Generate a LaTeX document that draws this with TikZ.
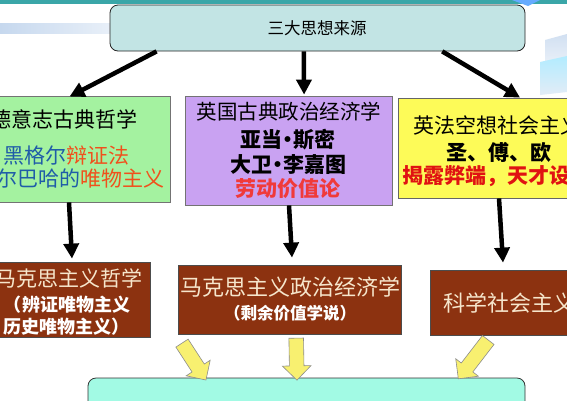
\documentclass[tikz,border=0pt]{standalone}
\usepackage{fontspec}
\setmainfont{Noto Sans CJK SC}
\usetikzlibrary{arrows.meta,shapes.arrows,calc}
\definecolor{topfill}{HTML}{C2E4E4}
\definecolor{greenfill}{HTML}{A4F2A0}
\definecolor{purplefill}{HTML}{C9A2F2}
\definecolor{yellowfill}{HTML}{FDFB58}
\definecolor{brownfill}{HTML}{8C3210}
\definecolor{mintfill}{HTML}{A2FAE4}
\definecolor{cream}{HTML}{F6E6CC}
\definecolor{hblue}{HTML}{1F5CA8}
\definecolor{horange}{HTML}{F0501C}
\definecolor{hred}{HTML}{F03A3A}
\definecolor{dred}{HTML}{E01212}
\definecolor{band}{HTML}{3AA6A8}
\definecolor{paleblue}{HTML}{C6D8EE}
\definecolor{arrowyellow}{HTML}{F8F070}
\newcommand{\mdot}{\kern-5pt·\kern-5pt}
\begin{document}
\begin{tikzpicture}[x=1pt,y=-1pt,
  box/.style={draw=#1,line width=0.8pt,inner sep=0pt},
  txt/.style={inner sep=0pt,font=\fontsize{21}{24}\selectfont},
  blk/.style={line width=4.5pt,-{Triangle[length=15pt,width=15pt]}},
  yarrow/.style={single arrow,draw=black!45,fill=arrowyellow,line width=0.6pt,
    inner xsep=0pt,inner ysep=7pt,single arrow head extend=7pt,
    single arrow tip angle=90}]
\useasboundingbox (0,0) rectangle (567,400);
\clip (0,0) rectangle (567,400);
% background decoration
\fill[white] (0,0) rectangle (567,400);
\shade[left color=paleblue,right color=paleblue!40] (0,23) rectangle (110,33);
\fill[band] (0,0) rectangle (567,3.5);
\fill[blue!55!cyan!60] (512,0) -- (540,0) -- (528,6) -- cycle;
\shade[top color=paleblue!80,bottom color=paleblue!40] (545,40) -- (567,34) -- (567,58) -- (545,62) -- cycle;
\shade[top color=blue!25!cyan!30,bottom color=paleblue!50] (540,62) -- (567,56) -- (567,92) -- (540,95) -- cycle;
% boxes
\node[box=black!85,fill=topfill,rounded corners=8pt,minimum width=415pt,minimum height=46pt] (top) at (317.5,28) {};
\node[txt,font=\fontsize{16.5}{20}\selectfont] (toptxt) at (317,28) {三大思想来源};

\node[box=black!55,fill=greenfill,minimum width=205pt,minimum height=106pt] (green) at (67.5,149) {};
\node[txt] (g1) at (64,119) {德意志古典哲学};
\node[txt] (g2) at (66,156) {\textcolor{hblue}{黑格尔}\textcolor{horange}{辩证法}};
\node[txt] (g3) at (70,179) {\textcolor{hblue}{费尔巴哈的}\textcolor{horange}{唯物主义}};

\node[box=black!55,fill=purplefill,minimum width=207pt,minimum height=109pt] (purple) at (288.5,150.5) {};
\node[txt,font=\fontsize{20.5}{24}\selectfont] (p1) at (289,112) {英国古典政治经济学};
\node[txt,font=\bfseries\fontsize{21}{24}\selectfont] (p2) at (288,140) {亚当\mdot 斯密};
\node[txt,font=\bfseries\fontsize{21}{24}\selectfont] (p3) at (288,165) {大卫\mdot 李嘉图};
\node[txt,font=\bfseries\fontsize{21}{24}\selectfont,text=hred] (p4) at (288,189) {劳动价值论};

\node[box=black!60,fill=yellowfill,minimum width=198pt,minimum height=100pt] (yellow) at (497,148) {};
\node[txt] (y1) at (497,125) {英法空想社会主义};
\node[txt,font=\bfseries\fontsize{21}{24}\selectfont] (y2) at (499,152) {圣、傅、欧};
\node[txt,font=\bfseries\fontsize{21}{24}\selectfont,text=dred] (y3) at (497,176) {揭露弊端，天才设想};

\node[box=black!70,fill=brownfill,minimum width=165pt,minimum height=75pt] (m1) at (67.5,299.5) {};
\node[txt,text=cream] (m1a) at (69,278) {马克思主义哲学};
\node[txt,font=\bfseries\fontsize{18}{22}\selectfont,text=white] (m1b) at (67,305) {（辨证唯物主义};
\node[txt,font=\bfseries\fontsize{18}{22}\selectfont,text=white] (m1c) at (66,327) {历史唯物主义）};

\node[box=black!70,fill=brownfill,minimum width=223pt,minimum height=69pt] (m2) at (289.5,299.5) {};
\node[txt,font=\fontsize{22}{26}\selectfont,text=cream] (m2a) at (290,287) {马克思主义政治经济学};
\node[txt,font=\bfseries\fontsize{16.5}{20}\selectfont,text=white] (m2b) at (290,313) {（剩余价值学说）};

\node[box=black!70,fill=brownfill,minimum width=158pt,minimum height=65pt] (m3) at (509,302.5) {};
\node[txt,font=\fontsize{22}{26}\selectfont,text=cream] (m3a) at (509,303) {科学社会主义};

\node[box=black!80,fill=mintfill,rounded corners=8pt,minimum width=437pt,minimum height=60pt] (bottom) at (306.5,408) {};

% black arrows
\draw[blk] ($(top.south west)!0.113!(top.south east)$) -- ($(green.north)+(2,1)$);
\draw[blk] ($(top.south west)!0.467!(top.south east)$) -- ($(purple.north west)!0.575!(purple.north east)+(0,-1)$);
\draw[blk] ($(top.south west)!0.80!(top.south east)$) -- ($(yellow.north west)!0.616!(yellow.north east)$);
\draw[blk] ($(green.south)+(1.5,0)$) -- ($(m1.north)+(4.5,-3)$);
\draw[blk] ($(purple.south)+(0.5,0)$) -- ($(m2.north)+(2.5,-7)$);
\draw[blk] ($(yellow.south)+(2,0)$) -- ($(m3.north)+(-6,-7)$);

% yellow block arrows
\node[yarrow,minimum height=44pt,rotate=-57] (ya) at ($(m1.south east)!0.5!(bottom.north west)+(73,1)$) {};
\node[yarrow,minimum height=42pt,rotate=-89] (yb) at ($(m2.south)!0.5!(bottom.north)+(-1.5,-0.5)$) {};
\node[yarrow,minimum height=49pt,rotate=-127.6] (yc) at ($(m3.south west)!0.5!(bottom.north east)+(-2,0)$) {};
\end{tikzpicture}
\end{document}
